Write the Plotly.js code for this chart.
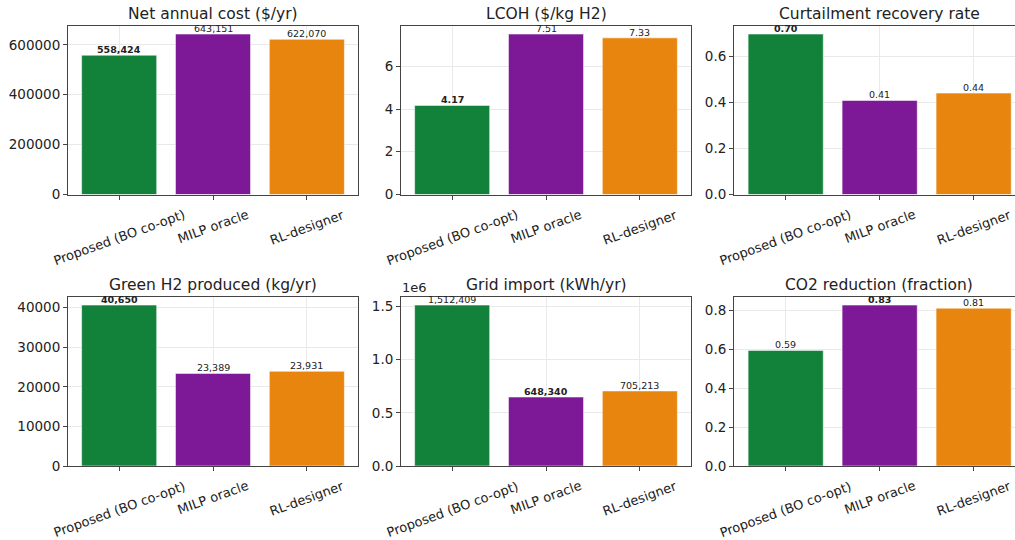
<!DOCTYPE html>
<html>
<head>
<meta charset="utf-8">
<script src="https://cdn.plot.ly/plotly-3.0.1.min.js"></script>
<style>html,body{margin:0;padding:0;background:#fff;}#chart{width:1015px;height:540px;}</style>
</head>
<body>
<div id="chart"></div>
<script>
const categories = ['Proposed (BO co-opt)', 'MILP oracle', 'RL-designer'];
const netCost = [558424, 643151, 622070];
const lcoh = [4.17, 7.51, 7.33];
const curtailment = [0.696, 0.408, 0.440];
const greenH2 = [40650, 23389, 23931];
const gridImport = [1512409, 648340, 705213];
const co2Reduction = [0.594, 0.827, 0.811];
const panelTitles = ['Net annual cost ($/yr)', 'LCOH ($/kg H2)', 'Curtailment recovery rate',
                     'Green H2 produced (kg/yr)', 'Grid import (kWh/yr)', 'CO2 reduction (fraction)'];
const bestIndex = [0, 0, 0, 0, 1, 1];
const barColors = ['#12823a', '#7d1896', '#e8850e'];

const series = [netCost, lcoh, curtailment, greenH2, gridImport, co2Reduction];
const isLarge = [true, false, false, true, true, false];

const W = 1015, H = 540;
const xDomPx = [[68, 358], [401, 691], [734, 1015]];
const xRanges = [[-0.545, 2.545], [-0.545, 2.545], [-0.55, 2.44]];
const yDomPx = [[26, 194.5], [297, 466]];

const yTickCfg = [
  {tickvals: [0, 200000, 400000, 600000], ticktext: ['0', '200000', '400000', '600000']},
  {tickvals: [0, 2, 4, 6], ticktext: ['0', '2', '4', '6']},
  {tickvals: [0, 0.2, 0.4, 0.6], ticktext: ['0.0', '0.2', '0.4', '0.6']},
  {tickvals: [0, 10000, 20000, 30000, 40000], ticktext: ['0', '10000', '20000', '30000', '40000']},
  {tickvals: [0, 500000, 1000000, 1500000], ticktext: ['0.0', '0.5', '1.0', '1.5']},
  {tickvals: [0, 0.2, 0.4, 0.6, 0.8], ticktext: ['0.0', '0.2', '0.4', '0.6', '0.8']}
];

const FONT = 'DejaVu Sans, Verdana, sans-serif';
const traces = [];
const layout = {
  width: W, height: H,
  margin: {l: 0, r: 0, t: 0, b: 0},
  paper_bgcolor: '#ffffff', plot_bgcolor: '#ffffff',
  showlegend: false,
  font: {family: FONT, color: '#222', size: 13},
  annotations: [],
  bargap: 0.2
};

function fmt(v, large) {
  return large ? Math.round(v).toLocaleString('en-US') : v.toFixed(2);
}

for (let i = 0; i < 6; i++) {
  const row = Math.floor(i / 3), col = i % 3;
  const n = i === 0 ? '' : String(i + 1);
  const vals = series[i];
  traces.push({
    type: 'bar', x: categories, y: vals, xaxis: 'x' + n, yaxis: 'y' + n,
    marker: {color: barColors, line: {color: 'rgba(255,255,255,0.55)', width: 1}},
    width: 0.8, hoverinfo: 'skip'
  });
  // value labels just above each bar
  vals.forEach((v, k) => {
    const s = fmt(v, isLarge[i]);
    layout.annotations.push({
      text: k === bestIndex[i] ? '<b>' + s + '</b>' : s,
      xref: 'x' + n, yref: 'y' + n, x: categories[k], y: v,
      xanchor: 'center', yanchor: 'bottom', showarrow: false, borderpad: 0, yshift: -1,
      font: {family: FONT, size: 9.5, color: '#222'}
    });
  });
  const xd = [xDomPx[col][0] / W, xDomPx[col][1] / W];
  const yd = [1 - yDomPx[row][1] / H, 1 - yDomPx[row][0] / H];
  const ymax = Math.max(...vals) * 1.05;
  layout['xaxis' + n] = {
    domain: xd, anchor: 'y' + n, type: 'category', range: xRanges[col],
    showline: true, mirror: true, linecolor: '#444', linewidth: 1,
    ticks: 'outside', ticklen: 4, tickcolor: '#444', showticklabels: false,
    showgrid: true, gridcolor: '#e9e9e9', gridwidth: 1, zeroline: false, fixedrange: true
  };
  layout['yaxis' + n] = {
    domain: yd, anchor: 'x' + n, range: [0, ymax],
    showline: true, mirror: col === 2 ? false : true, linecolor: '#444', linewidth: 1,
    ticks: 'outside', ticklen: 4, tickcolor: '#444',
    tickvals: yTickCfg[i].tickvals, ticktext: yTickCfg[i].ticktext,
    tickfont: {family: FONT, size: 13.5, color: '#222'},
    showgrid: true, gridcolor: '#e9e9e9', gridwidth: 1, zeroline: false, fixedrange: true
  };
  // panel title
  layout.annotations.push({
    text: panelTitles[i], xref: 'paper', yref: 'paper',
    x: (xDomPx[col][0] + (col === 2 ? xDomPx[col][0] + 290 : xDomPx[col][1])) / 2 / W,
    y: yd[1] + 2 / H, xanchor: 'center', yanchor: 'bottom', showarrow: false,
    font: {family: FONT, size: 15.5, color: '#222'}, borderpad: 0
  });
  // rotated x tick labels
  categories.forEach(c => {
    layout.annotations.push({
      text: c, xref: 'x' + n, yref: 'paper', x: c, y: yd[0] - 11 / H,
      xanchor: 'center', yanchor: 'top', textangle: -20, showarrow: false,
      font: {family: FONT, size: 13, color: '#222'}, borderpad: 0
    });
  });
}
// offset label for grid import axis
layout.annotations.push({
  text: '1e6', xref: 'paper', yref: 'paper', x: xDomPx[1][0] / W, y: 1 - yDomPx[1][0] / H + 1 / H,
  xanchor: 'left', yanchor: 'bottom', showarrow: false,
  font: {family: FONT, size: 13, color: '#222'}, borderpad: 0
});

Plotly.newPlot('chart', traces, layout, {staticPlot: true, displayModeBar: false});
</script>
</body>
</html>
